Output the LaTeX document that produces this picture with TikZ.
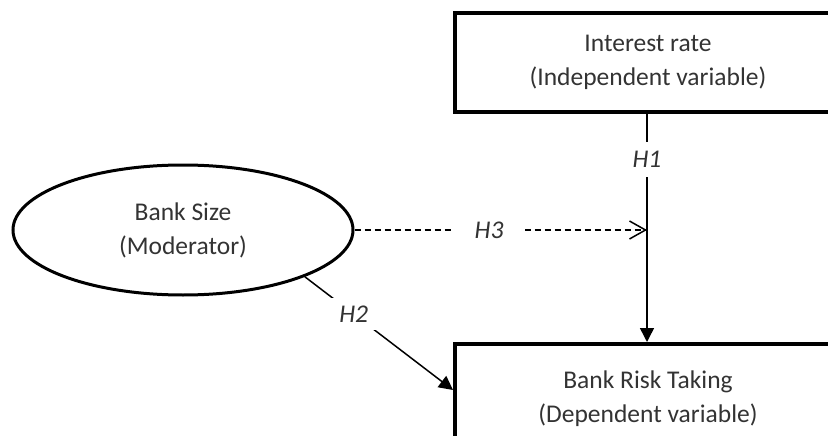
\documentclass[tikz,border=0pt]{standalone}
\usepackage{fontspec}
\setmainfont{Carlito}
\usetikzlibrary{arrows.meta,shapes.geometric,calc}
\definecolor{txt}{HTML}{333333}
\tikzset{
  varbox/.style={draw=black,line width=4pt,rectangle,minimum width=386pt,text=txt,
    font=\fontsize{25.5}{34}\selectfont,align=center,inner sep=0pt},
  modell/.style={draw=black,line width=3pt,ellipse,minimum width=340pt,minimum height=130pt,
    text=txt,font=\fontsize{25.5}{34}\selectfont,align=center,inner sep=0pt},
  link/.style={draw=black,line width=1.5pt},
  solidtip/.style={-{Triangle[length=14pt,width=14pt]}},
  opentip/.style={-{Straight Barb[length=16pt,width=18pt,line width=1.5pt]}},
  hlab/.style={fill=white,text=txt,font=\fontsize{25.5}{28}\selectfont\itshape,inner sep=3pt}
}
\begin{document}
\begin{tikzpicture}[x=1pt,y=-1pt]
\useasboundingbox (0,0) rectangle (828,436);
\clip (0,0) rectangle (828,436);
\node[varbox,minimum height=99pt] (top) at (648,62.5) {Interest rate\\(Independent variable)};
\node[varbox,minimum height=110pt] (bot) at (648,399) {Bank Risk Taking\\(Dependent variable)};
\node[modell] (ell) at (183,230) {Bank Size\\(Moderator)};
\coordinate (mid) at (647,0);
\coordinate (h2end) at ($(bot.north west)+(0,48)$);
\draw[link,solidtip] (top.south -| mid) -- node[hlab,pos=0.2,inner ysep=9pt] {H1} (bot.north -| mid);
\draw[link,dashed,dash pattern=on 6pt off 4pt,opentip] (ell.east) -- node[hlab,pos=0.46,inner xsep=22pt] {H3} (ell.east -| mid);
\draw[link,solidtip] (ell.-21) -- node[hlab,pos=0.33,inner xsep=8pt,inner ysep=8pt] {H2} (h2end);
\end{tikzpicture}
\end{document}
